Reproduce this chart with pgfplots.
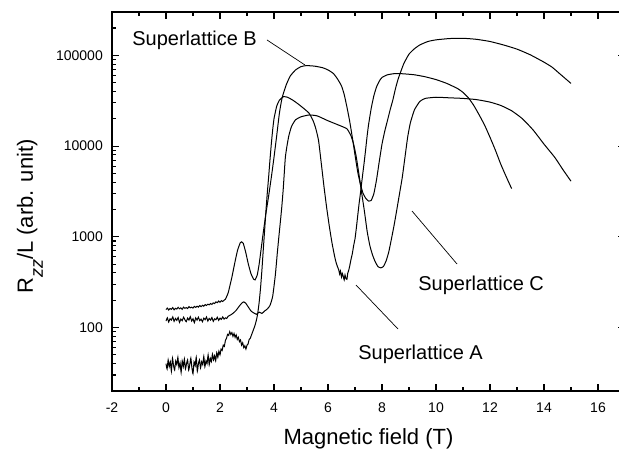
\documentclass[border=0pt]{standalone}
\usepackage{fontspec}
\setmainfont{Liberation Sans}
\usepackage{pgfplots}
\pgfplotsset{compat=1.18}
\pgfplotsset{trace/.style={black, line width=1bp, no markers, smooth, tension=0.3}}

\begin{document}
\begin{tikzpicture}
\begin{axis}[
  at={(0,0)}, anchor=south west,
  scale only axis, width=513bp, height=379bp,
  xmin=-2, xmax=17, ymode=log, ymin=20, ymax=3e5,
  xtick={-2,0,...,16}, xticklabels={-2,0,2,4,6,8,10,12,14,16},
  minor x tick num=1,
  ytick={100,1000,10000,100000}, yticklabels={100,1000,10000,100000},
  minor ytick={20,30,40,50,60,70,80,90,200,300,400,500,600,700,800,900,
    2000,3000,4000,5000,6000,7000,8000,9000,20000,30000,40000,50000,60000,70000,80000,90000,200000,300000},
  tick align=inside,
  major tick length=7bp, minor tick length=4bp,
  every tick/.style={black, line width=1.1bp},
  axis line style={line width=1.4bp},
  ticklabel style={font=\fontsize{14bp}{16bp}\selectfont},
  xticklabel style={inner sep=0pt, anchor=north, yshift=-12bp},
  yticklabel style={inner sep=0pt, anchor=east, xshift=-9bp},
]

% Superlattice A
\addplot[trace] coordinates {
(0.00,40)(0.04,35)(0.08,44)(0.12,37)(0.16,42)(0.20,33)(0.24,46)(0.28,38)(0.32,34)(0.36,43)
(0.40,39)(0.44,47)(0.48,36)(0.52,41)(0.56,32)(0.60,43)(0.64,37)(0.68,45)(0.72,35)(0.76,40)
(0.80,44)(0.84,34)(0.88,39)(0.92,46)(0.96,36)(1.00,31)(1.04,42)(1.08,38)(1.12,47)(1.16,33)
(1.20,40)(1.24,44)(1.28,36)(1.32,42)(1.36,39)(1.40,48)(1.44,37)(1.48,43)(1.52,40)(1.56,50)
(1.60,39)(1.64,46)(1.68,42)(1.72,51)(1.76,44)(1.80,49)(1.84,43)(1.88,53)(1.92,47)(1.96,55)
(2.00,50)(2.04,58)(2.08,56)(2.12,64)(2.16,62)(2.20,72)(2.24,76)(2.28,84)(2.32,82)(2.36,90)
(2.40,84)(2.44,88)(2.48,80)(2.52,86)(2.56,78)(2.60,83)(2.64,74)(2.68,78)(2.72,70)(2.76,73)
(2.80,64)(2.84,68)(2.88,60)(2.92,63)(2.96,58)(3.00,64)(3.04,66)(3.08,74)(3.12,76)(3.16,82)
(3.20,88)(3.24,95)(3.28,102)(3.32,112)(3.36,125)(3.40,145)(3.45,190)(3.50,270)(3.55,420)
(3.60,700)(3.65,1150)(3.70,1900)(3.75,3000)(3.80,4500)(3.85,7000)(3.90,10500)(3.95,15000)
(4.00,20000)(4.10,27500)(4.20,32000)(4.35,35000)(4.50,34500)(4.70,32000)(4.90,29000)
(5.10,26000)(5.30,23000)(5.45,19000)(5.55,15500)(5.65,11500)(5.75,6500)(5.85,3600)
(5.95,2100)(6.05,1300)(6.15,850)(6.25,600)(6.30,520)(6.35,470)(6.40,430)(6.43,390)(6.46,420)
(6.50,360)(6.53,395)(6.56,370)(6.60,335)(6.63,380)(6.66,350)(6.70,340)(6.73,395)(6.76,420)
(6.80,470)(6.85,560)(6.90,650)(6.95,800)(7.00,950)(7.05,1250)(7.10,1700)(7.15,2300)
(7.20,3000)(7.25,4000)(7.30,5300)(7.35,7000)(7.40,9500)(7.45,13000)(7.50,17000)(7.60,26000)
(7.70,36000)(7.80,45000)(7.90,52000)(8.00,57000)(8.20,61000)(8.50,63000)(8.80,62500)
(9.20,61000)(9.60,58000)(10.0,54000)(10.4,49000)(10.8,43000)(11.0,39000)(11.2,34000)
(11.4,28000)(11.6,22000)(11.8,17000)(12.0,12500)(12.2,9000)(12.4,6300)(12.6,4600)(12.8,3400)
};

% Superlattice B
\addplot[trace] coordinates {
(0.00,158)(0.05,164)(0.10,156)(0.15,162)(0.20,159)(0.25,166)(0.30,157)(0.35,163)(0.40,160)
(0.45,167)(0.50,161)(0.55,165)(0.60,159)(0.65,168)(0.70,163)(0.75,166)(0.80,162)(0.85,170)
(0.90,165)(0.95,168)(1.00,164)(1.05,171)(1.10,167)(1.15,172)(1.20,168)(1.25,175)(1.30,170)
(1.35,176)(1.40,172)(1.45,179)(1.50,175)(1.55,181)(1.60,178)(1.65,184)(1.70,180)(1.75,187)
(1.80,184)(1.85,192)(1.90,188)(1.95,196)(2.00,190)(2.05,198)(2.10,194)(2.15,200)(2.20,205)
(2.30,240)(2.38,300)(2.45,370)(2.55,520)(2.65,710)(2.75,860)(2.80,880)(2.86,850)(2.95,680)
(3.05,500)(3.15,390)(3.25,340)(3.30,335)(3.38,380)(3.45,500)(3.52,720)(3.60,1100)(3.70,1800)
(3.80,2800)(3.90,4500)(4.00,7500)(4.10,13000)(4.20,23000)(4.30,34000)(4.45,47000)(4.60,59000)
(4.80,69000)(5.00,75000)(5.20,77000)(5.50,76000)(5.80,73000)(6.00,69000)(6.20,63000)
(6.35,55000)(6.50,46000)(6.60,37000)(6.70,27000)(6.80,19000)(6.90,12500)(7.00,8000)
(7.10,5200)(7.20,3800)(7.30,3000)(7.40,2650)(7.50,2480)(7.60,2520)(7.70,3000)(7.80,4300)
(7.90,6800)(8.00,10500)(8.10,14500)(8.20,19000)(8.30,25000)(8.40,32000)(8.50,43000)
(8.60,55000)(8.80,80000)(9.00,103000)(9.20,118000)(9.40,130000)(9.70,142000)(10.0,148000)
(10.5,153000)(11.0,154000)(11.5,150000)(12.0,142000)(12.5,130000)(13.0,117000)(13.5,101000)
(14.0,84000)(14.3,74000)(14.6,62000)(15.0,49000)
};

% Superlattice C
\addplot[trace] coordinates {
(0.00,118)(0.05,128)(0.10,115)(0.15,125)(0.20,121)(0.25,131)(0.30,117)(0.35,126)(0.40,120)
(0.45,129)(0.50,114)(0.55,124)(0.60,119)(0.65,130)(0.70,122)(0.75,116)(0.80,127)(0.85,121)
(0.90,132)(0.95,118)(1.00,125)(1.05,113)(1.10,128)(1.15,121)(1.20,130)(1.25,119)(1.30,124)
(1.35,116)(1.40,127)(1.45,122)(1.50,131)(1.55,118)(1.60,126)(1.65,121)(1.70,129)(1.75,117)
(1.80,125)(1.85,122)(1.90,130)(1.95,120)(2.00,127)(2.05,123)(2.10,131)(2.15,124)(2.20,128)
(2.25,126)(2.30,133)(2.40,138)(2.50,145)(2.60,155)(2.70,170)(2.80,185)(2.88,192)(2.95,186)
(3.05,168)(3.15,152)(3.25,145)(3.35,140)(3.45,148)(3.55,143)(3.65,152)(3.75,160)(3.85,175)
(3.95,220)(4.05,380)(4.12,650)(4.20,1150)(4.28,2000)(4.34,3300)(4.38,5000)(4.42,7500)
(4.48,10000)(4.55,13000)(4.65,16500)(4.80,19500)(5.00,21000)(5.30,22000)(5.60,21500)
(6.00,19000)(6.40,17000)(6.70,15500)(6.85,13000)(6.95,10500)(7.05,7500)(7.15,4800)
(7.25,3000)(7.35,1900)(7.45,1150)(7.55,800)(7.65,630)(7.75,530)(7.85,470)(7.95,455)
(8.05,470)(8.15,540)(8.25,680)(8.35,950)(8.45,1350)(8.55,2000)(8.65,3000)(8.75,4500)
(8.85,7500)(8.95,12500)(9.05,18000)(9.20,25000)(9.40,31000)(9.60,33500)(10.0,34500)
(10.5,34000)(11.0,33500)(11.5,32500)(12.0,30500)(12.4,28000)(12.8,24500)(13.2,20000)
(13.6,15000)(14.0,10500)(14.4,7500)(14.7,5500)(15.0,4100)
};
\end{axis}

% curve labels and leader lines
\begin{scope}[font=\fontsize{20bp}{24bp}\selectfont, line width=0.7bp]
  \node[anchor=base west, inner sep=0pt] at (20bp,345bp) {Superlattice B};
  \draw (155bp,351bp) -- (193bp,326bp);
  \node[anchor=base west, inner sep=0pt] at (306bp,100bp) {Superlattice C};
  \draw (300bp,180bp) -- (345bp,127bp);
  \node[anchor=base west, inner sep=0pt] at (246bp,32bp) {Superlattice A};
  \draw (244bp,106bp) -- (286bp,62bp);
\end{scope}

% axis titles
\node[anchor=base, inner sep=0pt, font=\fontsize{22bp}{26bp}\selectfont] at (256.5bp,-53bp) {Magnetic field (T)};
\node[anchor=base, rotate=90, inner sep=0pt, font=\fontsize{22bp}{26bp}\selectfont]
  at (-79bp,174.5bp) {R\raisebox{-10bp}{\fontsize{18bp}{18bp}\selectfont\itshape zz}/L (arb. unit)};

\pgfresetboundingbox
\path (-112bp,-65bp) rectangle (507bp,391bp);
\end{tikzpicture}
\end{document}
